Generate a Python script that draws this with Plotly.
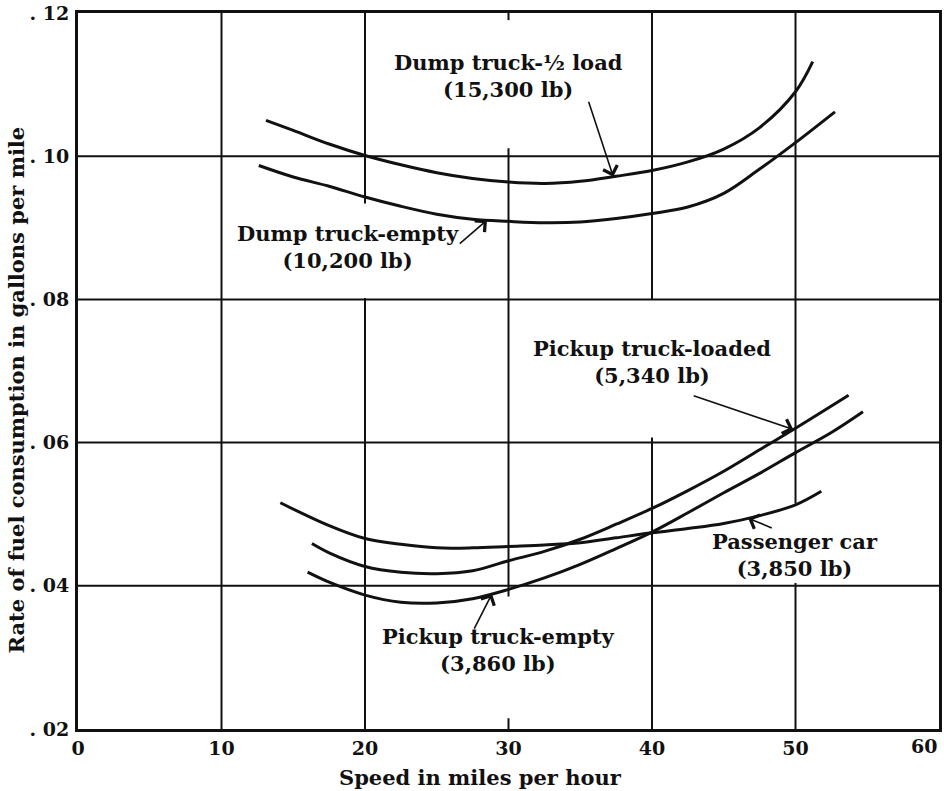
import numpy as np
import plotly.graph_objects as go

# Speed (mph) vs. rate of fuel consumption (gallons per mile)
dump_half_speed = [13.1, 15, 17.5, 20, 22.5, 25, 27.5, 30, 32.5, 35, 37.5, 40, 42.5, 45, 47.5, 50, 51.2]
dump_half_rate = [.1050, .1036, .1017, .1001, .0988, .0977, .0969, .0964, .0962, .0965, .0972, .0980,
                  .0992, .1010, .1040, .1090, .1132]

dump_empty_speed = [12.6, 15, 17.5, 20, 22.5, 25, 27.5, 30, 32.5, 35, 37.5, 40, 42.5, 45, 47.5, 50, 52.75]
dump_empty_rate = [.0987, .0971, .0958, .0943, .0930, .0919, .0912, .0909, .0907, .0908, .0913, .0920,
                   .0929, .0948, .0982, .1019, .1062]

car_speed = [14.1, 17.5, 20, 22.5, 25, 27.5, 30, 32.5, 35, 37.5, 40, 42.5, 45, 47.5, 50, 51.8]
car_rate = [.0516, .0484, .0466, .0458, .0453, .0453, .0455, .0457, .0460, .0467, .0474, .0480,
            .0487, .0498, .0513, .0532]

pickup_loaded_speed = [16.3, 17.5, 20, 22.5, 25, 27.5, 30, 32.5, 35, 37.5, 40, 42.5, 45, 47.5, 50, 52.5, 53.7]
pickup_loaded_rate = [.0459, .0446, .0427, .0419, .0417, .0421, .0435, .0448, .0465, .0486, .0508, .0533,
                      .0560, .0590, .0620, .0651, .0666]

pickup_empty_speed = [16.0, 17.5, 20, 22.5, 25, 27.5, 30, 32.5, 35, 37.5, 40, 42.5, 45, 47.5, 50, 52.5, 54.7]
pickup_empty_rate = [.0419, .0405, .0387, .0377, .0376, .0382, .0395, .0411, .0430, .0452, .0475, .0502,
                     .0530, .0557, .0586, .0614, .0643]

series = [
    (dump_half_speed, dump_half_rate),
    (dump_empty_speed, dump_empty_rate),
    (car_speed, car_rate),
    (pickup_loaded_speed, pickup_loaded_rate),
    (pickup_empty_speed, pickup_empty_rate),
]

# Curve labels: text, label centre (speed, rate), arrow tail (speed, rate), arrow tip speed, curve index
labels = [
    ("Dump truck-½ load<br>(15,300 lb)", (30.0, .1112), (35.55, .1078), 37.3, 0),
    ("Dump truck-empty<br>(10,200 lb)", (18.84, .0873), (26.5, .0876), 28.5, 1),
    ("Passenger car<br>(3,850 lb)", (49.97, .0443), (48.45, .0480), 46.7, 2),
    ("Pickup truck-loaded<br>(5,340 lb)", (40.0, .0713), (42.8, .0666), 49.85, 3),
    ("Pickup truck-empty<br>(3,860 lb)", (29.28, .0310), (27.56, .0338), 28.85, 4),
]

x_ticks = [0, 10, 20, 30, 40, 50, 60]
y_ticks = [.02, .04, .06, .08, .10, .12]
y_ticktext = [". 02", ". 04", ". 06", ". 08", ". 10", ". 12"]

# Grid lines, with breaks left open around the curve labels
v_grid = [10, 20, 30, 40, 50]
h_grid = [.04, .06, .08, .10]
v_gaps = {20: [(.0802, .0934)], 30: [(.0215, .0385), (.1011, .1190)], 40: [(.0607, .0800)],
          50: [(.0404, .0515)]}

FONT = "DejaVu Serif"
INK = "#111111"

fig = go.Figure()
for sx, sy in series:
    fig.add_trace(go.Scatter(x=sx, y=sy, mode="lines",
                             line=dict(color=INK, width=3, shape="spline", smoothing=1.0),
                             showlegend=False, hoverinfo="skip"))

shapes = []
for gx in v_grid:
    lo = y_ticks[0]
    segs = []
    for g0, g1 in sorted(v_gaps.get(gx, [])):
        segs.append((lo, g0))
        lo = g1
    segs.append((lo, y_ticks[-1]))
    for a, b in segs:
        shapes.append(dict(type="line", xref="x", yref="y", x0=gx, x1=gx, y0=a, y1=b,
                           line=dict(color=INK, width=2), layer="below"))
for gy in h_grid:
    shapes.append(dict(type="line", xref="x", yref="y", x0=x_ticks[0], x1=x_ticks[-1], y0=gy, y1=gy,
                       line=dict(color=INK, width=2), layer="below"))

annotations = []
for text, (tx, ty), (ax, ay), tip_x, idx in labels:
    sx, sy = series[idx]
    tip_y = float(np.interp(tip_x, sx, sy))
    annotations.append(dict(x=tx, y=ty, xref="x", yref="y", text=text, showarrow=False,
                            font=dict(family=FONT, size=21, color=INK, weight="bold"),
                            align="center"))
    annotations.append(dict(x=tip_x, y=tip_y, xref="x", yref="y", ax=ax, ay=ay,
                            axref="x", ayref="y", text="", showarrow=True,
                            arrowhead=4, arrowsize=1.8, arrowwidth=1.6, arrowcolor=INK,
                            standoff=0))

# last x tick label is right-aligned against the frame
annotations.append(dict(x=x_ticks[-1], y=0, xref="x", yref="paper", text=str(x_ticks[-1]),
                        xanchor="right", yanchor="top", yshift=-4, showarrow=False,
                        font=dict(family=FONT, size=19, color=INK, weight="bold")))
annotations.append(dict(x=0.467, y=-0.0684, xref="paper", yref="paper",
                        text="Speed in miles per hour", showarrow=False,
                        xanchor="center", yanchor="middle",
                        font=dict(family=FONT, size=21, color=INK, weight="bold")))
annotations.append(dict(x=-0.0714, y=0.4735, xref="paper", yref="paper",
                        text="Rate of fuel consumption in gallons per mile", showarrow=False,
                        textangle=-90, xanchor="center", yanchor="middle",
                        font=dict(family=FONT, size=21, color=INK, weight="bold")))

fig.update_layout(
    width=944, height=791,
    margin=dict(l=78, r=5, t=13, b=62),
    paper_bgcolor="white", plot_bgcolor="white",
    shapes=shapes, annotations=annotations,
    xaxis=dict(range=[x_ticks[0], x_ticks[-1]], tickvals=x_ticks[:-1],
               ticktext=[str(v) for v in x_ticks[:-1]],
               showgrid=False, zeroline=False, showline=True, linewidth=3, linecolor=INK,
               mirror=True, ticks="", automargin=False,
               tickfont=dict(family=FONT, size=19, color=INK, weight="bold")),
    yaxis=dict(range=[y_ticks[0], y_ticks[-1]], tickvals=y_ticks, ticktext=y_ticktext,
               showgrid=False, zeroline=False, showline=True, linewidth=3, linecolor=INK,
               mirror=True, ticks="", automargin=False, ticklabelstandoff=2,
               tickfont=dict(family=FONT, size=19, color=INK, weight="bold")),
)

fig.write_html("out.html")
